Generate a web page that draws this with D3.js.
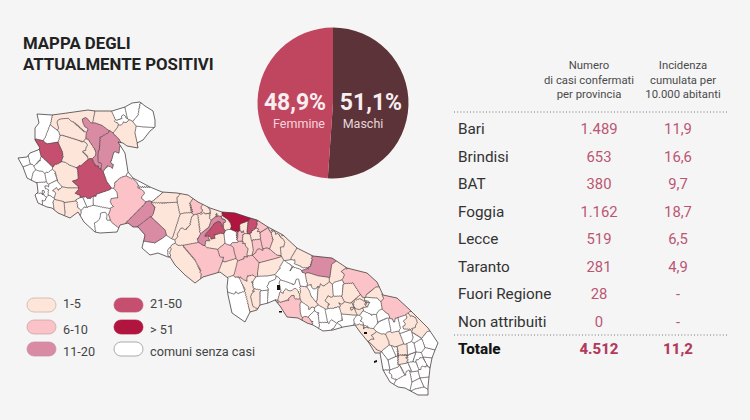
<!DOCTYPE html>
<html>
<head>
<meta charset="utf-8">
<script src="https://cdnjs.cloudflare.com/ajax/libs/d3/7.8.5/d3.min.js"></script>
<style>
  html, body { margin: 0; padding: 0; background: #f5f5f5; }
  svg { display: block; font-family: Roboto, sans-serif; }
</style>
</head>
<body>
<div id="chart"></div>
<script>
// region outline and municipal outlines in map-grid units
var regione = [
  [37,114],[52,115],[67,113],[88,110],[95,111],[112,111],[125,107],[132,103],[140,102],[145,106],[153,111],
  [155,120],[155,127],[150,131],[143,140],[137,143],[138,148],[127,146],[123,143],[118,142],[125,153],[128,172],
  [133,178],[150,187],[162,192],[177,193],[188,195],[198,202],[210,208],[222,212],[235,213],[247,217],[257,220],
  [268,227],[283,235],[297,248],[313,256],[332,258],[347,268],[367,273],[377,282],[383,295],[397,298],[410,310],
  [418,318],[428,328],[438,343],[435,350],[432,358],[430,368],[429,377],[428,387],[428,395],[418,395],[405,388],
  [398,387],[390,382],[383,370],[380,353],[375,353],[369,343],[360,332],[355,325],[343,327],[333,330],[323,331],
  [313,325],[307,323],[298,318],[287,317],[280,306],[275,300],[268,303],[260,305],[257,310],[250,312],[245,322],
  [232,313],[228,295],[227,287],[228,278],[220,272],[203,277],[195,283],[185,275],[175,265],[170,257],[168,257],
  [158,253],[150,255],[142,248],[145,235],[138,227],[133,227],[128,223],[120,225],[117,232],[100,233],[95,232],
  [84,222],[78,212],[70,218],[58,213],[52,208],[47,207],[38,203],[35,195],[38,192],[37,183],[27,178],[23,167],
  [18,158],[27,157],[30,153],[38,150],[40,148],[35,140],[35,128],[39,123]
];
var comuniSenzaCasi = [
  [[37,115],[52,115],[50,125],[45,138],[35,138],[35,128],[39,123]],
  [[45,138],[50,125],[58,132],[58,142],[48,143]],
  [[112,112],[125,108],[127,117],[117,120]],
  [[113,122],[125,117],[128,125],[118,130]],
  [[125,108],[132,103],[140,103],[138,115],[133,117],[127,117]],
  [[140,104],[153,112],[155,127],[143,127],[137,120],[138,115]],
  [[143,127],[153,128],[143,140],[137,142],[135,133]],
  [[118,143],[125,153],[128,172],[118,177],[113,185],[107,182],[105,170],[112,160],[115,150]],
  [[18,158],[27,157],[30,163],[23,167]],
  [[30,153],[38,150],[40,160],[35,165],[30,163]],
  [[23,167],[32,165],[33,173],[27,178]],
  [[35,165],[42,158],[50,167],[48,172],[40,170]],
  [[33,173],[42,172],[45,182],[37,182]],
  [[47,173],[55,172],[57,180],[48,183]],
  [[37,183],[45,182],[50,187],[45,195],[38,192]],
  [[47,187],[57,180],[60,188],[53,195],[50,193]],
  [[35,195],[43,193],[45,202],[38,203]],
  [[43,202],[50,198],[53,202],[52,208],[47,207]],
  [[77,200],[83,198],[87,207],[78,207]],
  [[83,198],[93,195],[93,203],[87,207]],
  [[93,195],[107,193],[113,192],[118,197],[115,207],[102,207],[93,203]],
  [[84,207],[102,207],[110,210],[106,225],[95,232],[84,222]],
  [[106,215],[108,225],[116,231],[100,233],[95,232]],
  [[128,173],[133,178],[150,187],[138,187]],
  [[138,187],[150,187],[162,192],[153,200],[142,198],[138,192]],
  [[142,248],[155,243],[165,238],[173,242],[168,248],[168,257],[158,253],[150,255]],
  [[168,250],[175,247],[178,253],[173,257],[168,255]],
  [[228,233],[237,233],[237,242],[230,242]],
  [[280,267],[290,265],[303,273],[307,283],[297,287],[287,280],[278,275]],
  [[290,262],[300,258],[303,263],[312,262],[312,268],[303,269],[300,267],[292,267]],
  [[228,278],[238,277],[245,290],[235,295],[227,287]],
  [[228,295],[245,292],[250,312],[245,322],[232,313]],
  [[252,282],[267,277],[275,278],[277,282],[270,290],[262,290],[253,287]],
  [[260,292],[268,290],[267,303],[260,305]],
  [[268,290],[277,278],[280,290],[277,300],[268,303]],
  [[280,283],[300,285],[300,292],[293,295],[282,293]],
  [[302,305],[312,308],[310,315],[303,315]],
  [[310,315],[318,313],[318,325],[313,325]],
  [[317,308],[323,310],[327,322],[320,322]],
  [[327,310],[338,307],[342,318],[343,327],[333,330],[328,323]],
  [[320,323],[332,323],[333,328],[323,331]],
  [[342,315],[353,315],[352,327],[342,327]],
  [[335,283],[343,282],[342,295],[335,295]],
  [[310,283],[318,287],[317,300],[312,296]],
  [[355,320],[365,317],[368,327],[358,328]],
  [[363,313],[373,315],[378,323],[368,327],[362,320]],
  [[378,322],[387,318],[390,330],[382,333],[377,327]],
  [[390,320],[398,318],[400,328],[392,332]],
  [[398,318],[408,317],[410,330],[402,333]],
  [[380,313],[390,315],[387,318],[378,322]],
  [[363,300],[377,298],[378,308],[372,315],[363,308]],
  [[427,333],[438,343],[435,350],[425,347],[422,338]],
  [[383,350],[392,347],[396,356],[388,360]],
  [[392,347],[397,347],[398,356],[396,356]],
  [[402,333],[410,330],[413,338],[405,343]],
  [[413,333],[420,338],[414,343],[413,338]],
  [[407,345],[414,343],[416,352],[408,355]],
  [[414,343],[422,340],[425,348],[416,352]],
  [[425,348],[435,350],[432,358],[423,357]],
  [[416,352],[423,357],[420,364],[413,361]],
  [[408,355],[416,352],[413,361],[406,362]],
  [[388,360],[398,356],[398,367],[390,370]],
  [[380,353],[388,360],[390,370],[383,370]],
  [[383,370],[392,370],[396,380],[390,382]],
  [[390,370],[400,366],[405,375],[396,380]],
  [[400,365],[408,363],[412,372],[405,375]],
  [[408,363],[416,362],[418,371],[412,372]],
  [[416,362],[423,358],[427,365],[421,371]],
  [[423,357],[432,358],[430,368],[427,365]],
  [[418,371],[427,366],[430,368],[429,377],[420,378]],
  [[410,372],[418,371],[420,378],[412,382]],
  [[396,380],[405,375],[410,372],[412,382],[405,388],[398,387]],
  [[412,382],[420,378],[424,387],[415,389]],
  [[420,378],[429,377],[428,387],[424,387]],
  [[415,389],[424,387],[428,395],[418,395]]
];
var comuni1a5 = [
  [[52,115],[67,113],[88,110],[95,112],[93,122],[88,130],[85,132],[75,123],[67,128],[58,130],[53,127],[50,125]],
  [[95,112],[112,112],[117,128],[113,131],[103,123],[93,122]],
  [[128,122],[135,133],[137,142],[138,148],[127,145],[115,133],[117,128]],
  [[83,142],[88,140],[95,150],[95,155],[88,157],[83,152]],
  [[58,142],[62,135],[78,140],[85,142],[83,152],[88,157],[80,167],[70,165],[63,160],[63,152]],
  [[62,123],[75,123],[85,132],[83,142],[78,140],[62,135],[58,130]],
  [[55,165],[65,163],[77,170],[80,188],[68,188],[58,182],[55,173]],
  [[55,190],[68,188],[80,188],[82,195],[75,200],[65,202],[57,198]],
  [[53,202],[63,202],[65,213],[58,213]],
  [[65,203],[77,202],[78,212],[70,218],[65,213]],
  [[152,203],[177,202],[180,215],[173,237],[165,230],[153,217],[155,207]],
  [[153,202],[165,192],[177,193],[177,202],[163,203]],
  [[180,215],[185,213],[192,213],[190,225],[178,238],[173,237]],
  [[192,217],[198,215],[200,230],[197,242],[178,245],[177,238],[190,225]],
  [[177,198],[188,195],[192,212],[180,213]],
  [[198,207],[210,210],[210,213],[200,215],[202,212]],
  [[210,208],[222,212],[220,215],[210,218]],
  [[198,215],[210,213],[208,227],[200,232]],
  [[222,218],[228,220],[232,225],[225,227]],
  [[205,238],[215,235],[220,235],[220,245],[207,247]],
  [[240,225],[248,222],[247,232],[242,232]],
  [[243,235],[250,235],[252,250],[247,257],[243,250]],
  [[250,232],[260,228],[260,238],[252,240]],
  [[268,227],[283,235],[277,238],[270,230]],
  [[277,238],[283,235],[297,248],[290,258],[278,245]],
  [[297,248],[313,258],[310,268],[302,267],[292,258]],
  [[272,230],[280,237],[282,245],[277,253],[270,248],[273,240]],
  [[172,245],[183,246],[195,260],[202,273],[195,283],[185,275],[175,265],[170,257]],
  [[223,262],[237,260],[233,273],[227,277],[220,272]],
  [[260,263],[277,258],[280,268],[267,275],[258,273]],
  [[307,275],[320,277],[328,278],[323,287],[313,287],[307,282]],
  [[240,277],[252,275],[253,290],[258,307],[257,310],[250,312],[245,290]],
  [[253,290],[260,290],[260,305],[257,308]],
  [[280,293],[298,292],[298,298],[278,302]],
  [[300,287],[308,292],[315,305],[310,308],[302,297]],
  [[318,287],[330,285],[332,298],[327,308],[317,300]],
  [[332,265],[347,268],[343,277],[333,282],[330,277]],
  [[343,285],[353,283],[360,295],[350,303],[342,297]],
  [[330,298],[342,297],[342,305],[333,308],[328,307]],
  [[340,305],[352,303],[355,310],[353,315],[342,313]],
  [[352,303],[360,295],[367,303],[360,312],[355,310]],
  [[367,295],[375,288],[383,298],[377,298]],
  [[355,300],[367,302],[363,308],[353,308]],
  [[410,313],[418,318],[428,328],[422,338],[413,333]],
  [[408,315],[415,318],[412,330],[405,327]],
  [[370,335],[383,335],[388,342],[383,350],[377,350],[370,342]],
  [[388,333],[397,333],[402,343],[395,347],[390,342]],
  [[397,347],[407,345],[407,355],[398,355]],
  [[355,325],[367,328],[373,333],[370,340],[360,332]],
  [[369,343],[377,350],[380,353],[375,353]],
  [[398,355],[408,355],[406,363],[398,364]]
];
var comuni6a10 = [
  [[123,178],[133,178],[140,190],[143,203],[127,220],[120,225],[108,215],[115,202],[120,192],[115,182]],
  [[190,203],[198,202],[202,212],[192,213]],
  [[237,232],[243,232],[242,240],[237,240]],
  [[257,222],[263,222],[268,227],[260,232],[257,227]],
  [[222,248],[233,248],[235,257],[225,262],[220,258]],
  [[233,243],[243,242],[247,258],[238,260],[235,253]],
  [[253,240],[260,240],[263,252],[255,253]],
  [[260,233],[268,228],[273,240],[270,248],[263,248]],
  [[183,246],[197,243],[215,252],[223,260],[217,272],[203,277],[200,270],[195,260]],
  [[238,262],[248,256],[258,263],[257,273],[243,278],[235,277]],
  [[255,253],[267,248],[277,258],[260,262]],
  [[275,300],[280,303],[293,298],[298,300],[298,313],[300,318],[292,318],[290,310]],
  [[305,318],[312,322],[312,327],[307,323]],
  [[345,268],[367,273],[377,282],[375,288],[363,297],[353,283],[343,282]],
  [[383,295],[397,298],[410,310],[393,320],[387,312]]
];
var comuni11a20 = [
  [[88,123],[95,123],[108,132],[100,137],[99,150],[103,162],[98,172],[95,163],[97,153],[88,138]],
  [[100,137],[110,132],[118,140],[120,147],[113,153],[110,165],[103,170],[99,155]],
  [[128,223],[150,202],[155,207],[153,213],[138,225],[133,227]],
  [[138,227],[150,218],[165,230],[163,237],[155,243],[145,235]],
  [[197,240],[210,227],[217,215],[225,220],[222,227],[208,237],[203,245]],
  [[313,256],[332,258],[330,277],[318,275],[308,270],[302,272],[310,267]]
];
var comuni21a50 = [
  [[35,140],[45,145],[58,142],[62,152],[63,157],[58,163],[53,165],[43,157],[40,148]],
  [[78,167],[90,160],[98,167],[100,170],[107,182],[108,188],[92,197],[80,197],[78,183]],
  [[207,235],[215,225],[222,225],[222,230],[212,237]],
  [[248,222],[257,220],[257,225],[250,233],[247,232]]
];
var comuniOltre51 = [
  [[222,212],[235,213],[247,217],[248,220],[240,223],[238,232],[233,227],[227,218]]
];
// small dark specks along the coast
var macchie = [
  [[277,285],[280,285],[280,290],[277,290]],
  [[364,332],[367,332],[367,334],[364,334]],
  [[374,361],[377,360],[377,362],[374,363]],
  [[279,311],[282,311],[282,312.5],[279,312.5]]
];

var pieLabels = ['Maschi', 'Femmine'];
var pieValues = [51.1, 48.9];
var pieTexts = ['51,1%', '48,9%'];

var provinces = ['Bari', 'Brindisi', 'BAT', 'Foggia', 'Lecce', 'Taranto', 'Fuori Regione', 'Non attribuiti'];
var casi = ['1.489', '653', '380', '1.162', '519', '281', '28', '0'];
var incidenza = ['11,9', '16,6', '9,7', '18,7', '6,5', '4,9', '-', '-'];
var totale = ['Totale', '4.512', '11,2'];

var legendLabels = ['1-5', '6-10', '11-20', '21-50', '> 51', 'comuni senza casi'];
var legendColors = ['#fde5da', '#fbc3c7', '#d98ba3', '#c54f6e', '#b0143f', '#ffffff'];
var legendStrokes = ['#c9a99b', '#c99ca0', '#c98ba0', '#c54f6e', '#b0143f', '#8a8a8a'];

var svg = d3.select('#chart').append('svg').attr('width', 750).attr('height', 420);

svg.append('rect').attr('width', 750).attr('height', 420).attr('fill', '#f5f5f5');

// title
svg.selectAll('.title').data(['MAPPA DEGLI', 'ATTUALMENTE POSITIVI']).enter().append('text')
  .attr('x', 23)
  .attr('y', function(d, i) { return 49 + i * 21; })
  .attr('font-size', 16.8)
  .attr('font-weight', 700)
  .attr('fill', '#222')
  .text(function(d) { return d; });

// map
var mapX = d3.scaleLinear().domain([18, 438]).range([18, 438]);
var mapY = d3.scaleLinear().domain([103, 395]).range([103, 395]);
var project = function(p) { return [mapX(p[0]), mapY(p[1])]; };
var outline = d3.line().curve(d3.curveLinearClosed);

var mapLayers = [comuniSenzaCasi, comuni1a5, comuni6a10, comuni11a20, comuni21a50, comuniOltre51];
var layerColors = [legendColors[5], legendColors[0], legendColors[1], legendColors[2], legendColors[3], legendColors[4]];

var comuni = [];
mapLayers.forEach(function(layer, l) {
  layer.forEach(function(poly) {
    comuni.push({ pts: poly.map(project), color: layerColors[l], cells: '' });
  });
});

// the traced outlines leave slivers between neighbours, so sample each one
// and let a voronoi split the region so that every border is shared.
// where two outlines overlap the one with the stronger colour wins
function coveredByLater(p, id) {
  for (var j = id + 1; j < comuni.length; j++) {
    if (d3.polygonContains(comuni[j].pts, p)) return true;
  }
  return false;
}

var seeds = [];
var owners = [];
comuni.forEach(function(comune, id) {
  var pts = comune.pts;
  var c = d3.polygonCentroid(pts);
  if (d3.polygonContains(pts, c) && !coveredByLater(c, id)) {
    seeds.push(c);
    owners.push(id);
  }
  pts.forEach(function(a, i) {
    var b = pts[(i + 1) % pts.length];
    var n = Math.max(1, Math.round(Math.hypot(b[0] - a[0], b[1] - a[1]) / 2));
    d3.range(n).forEach(function(k) {
      var x = a[0] + (b[0] - a[0]) * k / n;
      var y = a[1] + (b[1] - a[1]) * k / n;
      var s = [x + (c[0] - x) * 0.05, y + (c[1] - y) * 0.05];
      if (coveredByLater(s, id)) return;
      seeds.push(s);
      owners.push(id);
    });
  });
});

var delaunay = d3.Delaunay.from(seeds);
var voronoi = delaunay.voronoi([0, 0, 750, 420]);

// one path per comune, separate cell paths leave hairline seams
seeds.forEach(function(s, i) {
  comuni[owners[i]].cells += voronoi.renderCell(i) || '';
});

svg.append('clipPath').attr('id', 'regione-clip').append('path')
  .attr('d', outline(regione.map(project)));

var map = svg.append('g').attr('clip-path', 'url(#regione-clip)');
map.append('g').selectAll('path').data(comuni).enter().append('path')
  .attr('d', function(d) { return d.cells; })
  .attr('fill', function(d) { return d.color; });

var borders = d3.path();
var cc = voronoi.circumcenters;
delaunay.halfedges.forEach(function(h, e) {
  if (h < e) return;
  if (owners[delaunay.triangles[e]] === owners[delaunay.triangles[h]]) return;
  var t1 = Math.floor(e / 3);
  var t2 = Math.floor(h / 3);
  borders.moveTo(cc[t1 * 2], cc[t1 * 2 + 1]);
  borders.lineTo(cc[t2 * 2], cc[t2 * 2 + 1]);
});
map.append('path')
  .attr('d', borders.toString())
  .attr('fill', 'none')
  .attr('stroke', '#3c3436')
  .attr('stroke-width', 0.65);

svg.append('path')
  .attr('d', outline(regione.map(project)))
  .attr('fill', 'none')
  .attr('stroke', '#3c3436')
  .attr('stroke-width', 0.75)
  .attr('stroke-linejoin', 'round');

svg.append('g').selectAll('path').data(macchie).enter().append('path')
  .attr('d', function(d) { return outline(d.map(project)); })
  .attr('fill', '#111');

// pie
var pie = d3.pie().sort(null);
var arc = d3.arc().innerRadius(0).outerRadius(75.5);
var pieColors = ['#5c3339', '#c0465f'];
var pieG = svg.append('g').attr('transform', 'translate(333,103)');
pieG.selectAll('path').data(pie(pieValues)).enter().append('path')
  .attr('d', arc)
  .attr('fill', function(d, i) { return pieColors[i]; });

var pctX = [38, -38];
var nameX = [30, -34];
pieG.selectAll('.pct').data(pieTexts).enter().append('text')
  .attr('x', function(d, i) { return pctX[i]; })
  .attr('y', 7)
  .attr('text-anchor', 'middle')
  .attr('font-size', 23)
  .attr('font-weight', 700)
  .attr('fill', '#f7eef0')
  .text(function(d) { return d; });
pieG.selectAll('.name').data(pieLabels).enter().append('text')
  .attr('x', function(d, i) { return nameX[i]; })
  .attr('y', 25)
  .attr('text-anchor', 'middle')
  .attr('font-size', 12.5)
  .attr('fill', function(d, i) { return i === 0 ? '#e6d5d8' : '#f6d5dc'; })
  .text(function(d) { return d; });

// table
var rowY = d3.scalePoint().domain(provinces).range([134, 327]);
var labelX = 458, casiX = 599, incX = 678;

var table = svg.append('g');
var head = [
  { x: 589, lines: ['Numero', 'di casi confermati', 'per provincia'] },
  { x: 683, lines: ['Incidenza', 'cumulata per', '10.000 abitanti'] }
];
head.forEach(function(h) {
  h.lines.forEach(function(line, i) {
    table.append('text')
      .attr('x', h.x)
      .attr('y', 69 + i * 14.5)
      .attr('text-anchor', 'middle')
      .attr('font-size', 11.3)
      .attr('fill', '#4a4a4a')
      .text(line);
  });
});
[112, 335].forEach(function(y) {
  table.append('line')
    .attr('x1', 454).attr('x2', 729)
    .attr('y1', y).attr('y2', y)
    .attr('stroke', '#777')
    .attr('stroke-width', 1)
    .attr('stroke-dasharray', '1 2.2');
});
provinces.forEach(function(p, i) {
  table.append('text').attr('x', labelX).attr('y', rowY(p))
    .attr('font-size', 15.3).attr('fill', '#333').text(p);
  table.append('text').attr('x', casiX).attr('y', rowY(p))
    .attr('text-anchor', 'middle').attr('font-size', 14.8).attr('fill', '#bb5573').text(casi[i]);
  table.append('text').attr('x', incX).attr('y', rowY(p))
    .attr('text-anchor', 'middle').attr('font-size', 14.8).attr('fill', '#bb5573').text(incidenza[i]);
});
table.append('text').attr('x', labelX).attr('y', 354)
  .attr('font-size', 15.3).attr('font-weight', 800).attr('fill', '#151515').text(totale[0]);
table.append('text').attr('x', casiX).attr('y', 354)
  .attr('text-anchor', 'middle').attr('font-size', 15).attr('font-weight', 800).attr('fill', '#b33a5c').text(totale[1]);
table.append('text').attr('x', incX).attr('y', 354)
  .attr('text-anchor', 'middle').attr('font-size', 15).attr('font-weight', 800).attr('fill', '#b33a5c').text(totale[2]);

// legend
var swatchY = [298, 320, 342];
var textY = [308, 334, 356];
var legend = svg.append('g');
legendLabels.forEach(function(label, i) {
  var col = i < 3 ? 0 : 1;
  var row = i % 3;
  legend.append('rect')
    .attr('x', col ? 114 : 27)
    .attr('y', swatchY[row])
    .attr('width', 29)
    .attr('height', 14)
    .attr('rx', 7)
    .attr('fill', legendColors[i])
    .attr('stroke', legendStrokes[i])
    .attr('stroke-width', 0.7);
  legend.append('text')
    .attr('x', col ? 150 : 63)
    .attr('y', textY[row])
    .attr('font-size', 12.7)
    .attr('fill', '#444')
    .text(label);
});
</script>
</body>
</html>
